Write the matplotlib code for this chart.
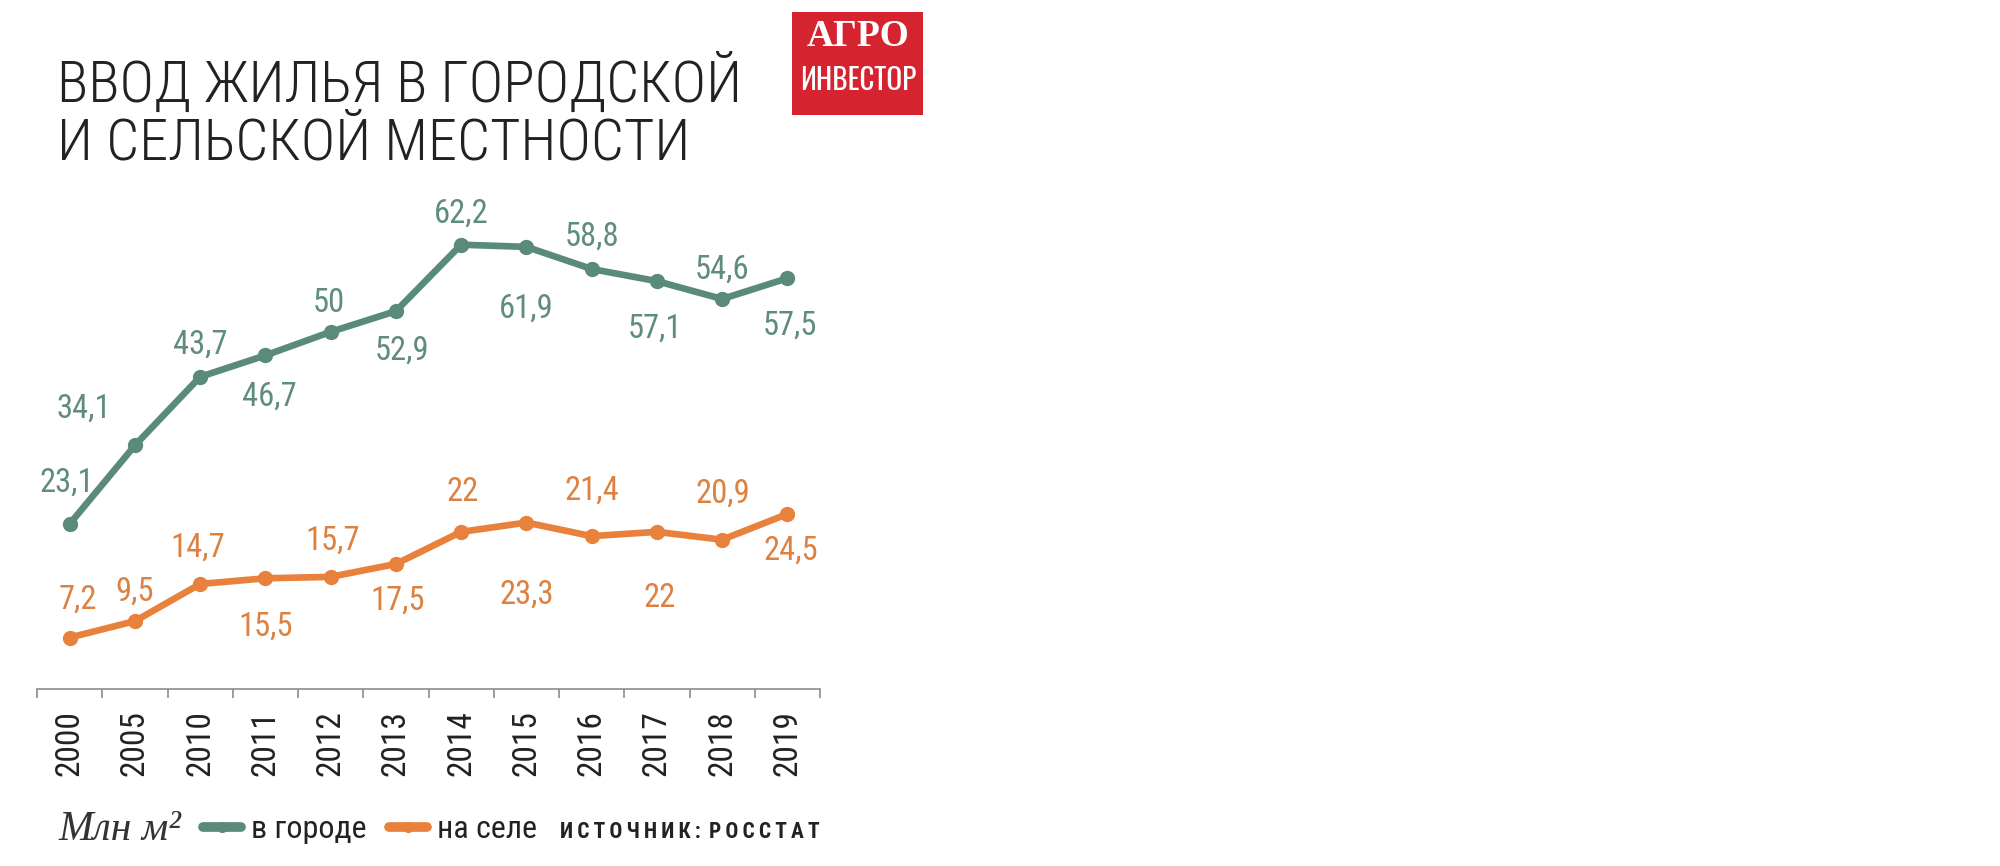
import matplotlib
matplotlib.use('Agg')
import matplotlib.pyplot as plt
import matplotlib.patches as mpatches

years = ['2000', '2005', '2010', '2011', '2012', '2013', '2014', '2015', '2016', '2017', '2018', '2019']
city = [23.1, 34.1, 43.7, 46.7, 50.0, 52.9, 62.2, 61.9, 58.8, 57.1, 54.6, 57.5]
village = [7.2, 9.5, 14.7, 15.5, 15.7, 17.5, 22.0, 23.3, 21.4, 22.0, 20.9, 24.5]

# label offsets in pixels (dx, dy), dy > 0 means above the point
city_off = [(-3, 41), (-51, 37), (0, 32), (4, -41), (-2, 29), (6, -40),
            (0, 31), (0, -62), (0, 32), (-2, -48), (0, 29), (3, -47)]
village_off = [(8, 38), (0, 29), (-2, 36), (0, -48), (2, 36), (2, -37),
               (1, 40), (0, -72), (0, 45), (3, -66), (1, 46), (3, -37)]

GREEN = '#5a8a79'
ORANGE = '#e8813b'
COND = ['Roboto Condensed', 'PT Sans Narrow', 'DejaVu Sans']
SERIF = ['Liberation Serif', 'PT Serif', 'DejaVu Serif']

plt.rcParams['font.family'] = COND

fig = plt.figure(figsize=(20, 8.66), dpi=100)
ax = fig.add_axes([37 / 2000, 177 / 866, 783 / 2000, 500 / 866])

x = list(range(len(years)))
l1, = ax.plot(x, city, color=GREEN, lw=4.8, marker='o', ms=10, label='в городе',
              solid_joinstyle='round', solid_capstyle='round')
l2, = ax.plot(x, village, color=ORANGE, lw=4.8, marker='o', ms=10, label='на селе',
              solid_joinstyle='round', solid_capstyle='round')

for xi, v, (dx, dy) in zip(x, city, city_off):
    ax.annotate(f'{v:g}'.replace('.', ','), (xi, v), xytext=(dx, dy), textcoords='offset pixels',
                ha='center', va='center', fontsize=23.5, color='#5f8c7e')
for xi, v, (dx, dy) in zip(x, village, village_off):
    ax.annotate(f'{v:g}'.replace('.', ','), (xi, v), xytext=(dx, dy), textcoords='offset pixels',
                ha='center', va='center', fontsize=23.5, color='#dc8140')

ax.set_xlim(-0.5, len(years) - 0.5)
ax.set_ylim(0, 70)
for s in ['top', 'right', 'left']:
    ax.spines[s].set_visible(False)
ax.spines['bottom'].set_color('#8c8c8c')
ax.spines['bottom'].set_linewidth(1.2)
ax.set_yticks([])
ax.set_xticks(x)
ax.set_xticklabels(years, rotation=90, fontsize=24, color='#222222')
ax.tick_params(axis='x', which='major', length=0, pad=15)
ax.set_xticks([i - 0.5 for i in range(len(years) + 1)], minor=True)
ax.tick_params(axis='x', which='minor', length=6.5, width=1.2, color='#8c8c8c', direction='out')
ax.patch.set_alpha(0)

# title
fig.text(57 / 2000, 1 - 102 / 866, 'ВВОД ЖИЛЬЯ В ГОРОДСКОЙ', fontsize=42, color='#222222',
         va='baseline', fontweight='light')
fig.text(57 / 2000, 1 - 159 / 866, 'И СЕЛЬСКОЙ МЕСТНОСТИ', fontsize=42, color='#222222',
         va='baseline', fontweight='light')

# logo
fig.patches.append(mpatches.Rectangle((792 / 2000, 1 - 115 / 866), 131 / 2000, 103 / 866,
                                      transform=fig.transFigure, facecolor='#d5232f', edgecolor='none'))
fig.text(858 / 2000, 1 - 36 / 866, 'АГРО', fontsize=27, color='white', fontweight='bold',
         family=SERIF, ha='center', va='center')
fig.text(858 / 2000, 1 - 81 / 866, 'ИНВЕСТОР', fontsize=21, color='white',
         family=['Oswald', 'Roboto Condensed', 'DejaVu Sans'], ha='center', va='center')

# legend row
fig.text(58 / 2000, 1 - 840 / 866, 'Млн м²', fontsize=30, style='italic', color='#333333',
         family=SERIF, va='baseline')
leg = fig.legend(handles=[l1, l2], loc='center left', bbox_to_anchor=(203 / 2000, 1 - 830 / 866),
                 ncol=2, frameon=False, fontsize=23, handlelength=1.2, handletextpad=0.3,
                 columnspacing=0.7, borderpad=0, borderaxespad=0)
for t in leg.get_texts():
    t.set_color('#222222')
for h in leg.get_lines():
    h.set_linewidth(7)
    h.set_markersize(7)
fig.text(560 / 2000, 1 - 832 / 866, '\u2009'.join('ИСТОЧНИК:') + '\u2009\u2009' + '\u2009'.join('РОССТАТ'),
         fontsize=15.5, fontweight='bold', color='#222222', va='center')

fig.savefig('out.png', dpi=100)
